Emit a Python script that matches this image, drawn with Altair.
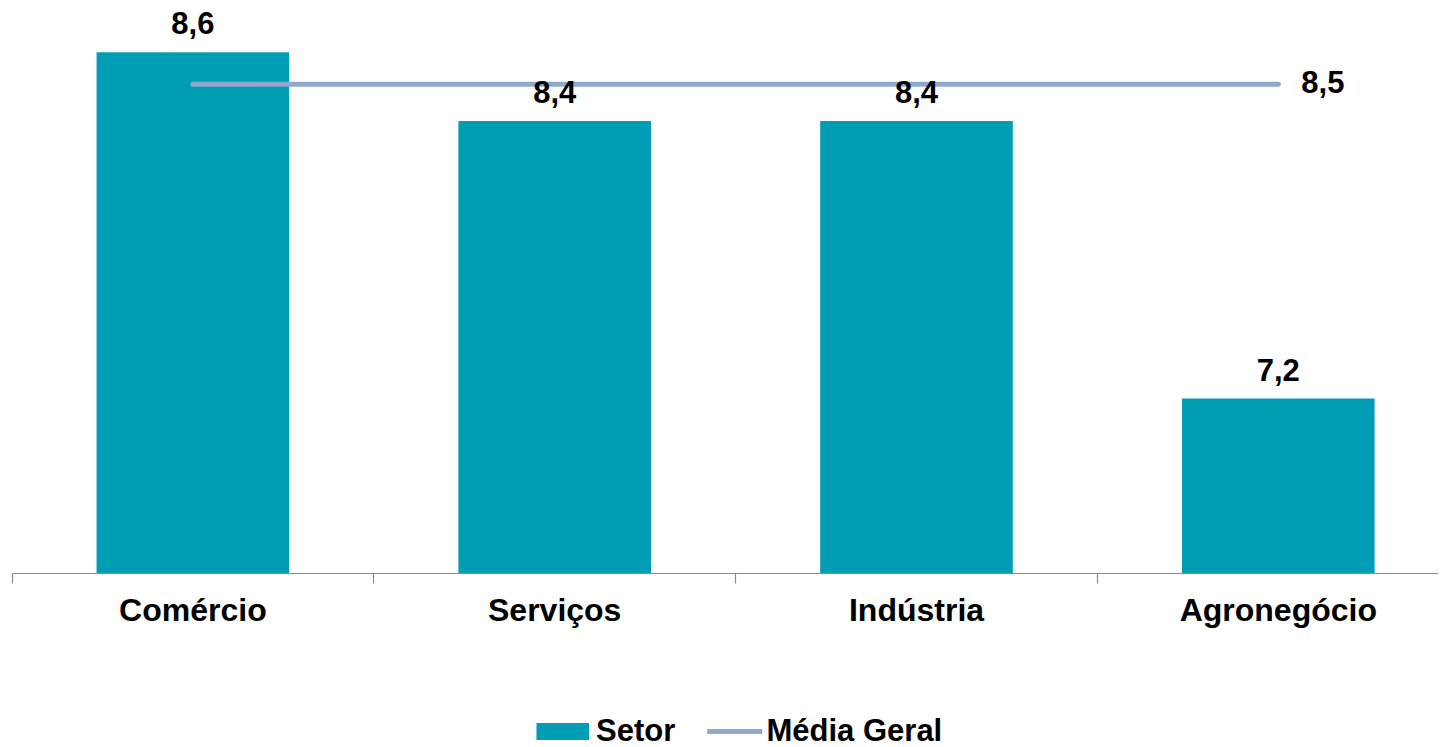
import altair as alt
import pandas as pd

categorias = ["Comércio", "Serviços", "Indústria", "Agronegócio"]
valores = [8.64, 8.36, 8.36, 7.23]
media_geral = 8.51
serie_barras = "Setor"
serie_linha = "Média Geral"
y_min, y_max = 6.52, 8.82

COR_BARRA = "#009EB5"
COR_LINHA = "#8FA8CC"
FONTE = "Liberation Sans"

barras_df = pd.DataFrame({"categoria": categorias, "valor": valores, "serie": serie_barras})
linha_df = pd.DataFrame({"categoria": [categorias[0], categorias[-1]],
                         "valor": [media_geral, media_geral], "serie": serie_linha})
rotulo_df = pd.DataFrame({"categoria": [categorias[-1]], "valor": [media_geral]})

W, H = 1426, 565
x_enc = alt.X(
    "categoria:N",
    sort=categorias,
    scale=alt.Scale(paddingInner=0.4677, paddingOuter=0.2045, align=0.5716),
    axis=alt.Axis(
        title=None, labelAngle=0, bandPosition=-0.439, tickSize=10, tickColor="#8c8c8c",
        domainColor="#8c8c8c", domainWidth=1.2, tickWidth=1.2,
        labelFont=FONTE, labelFontSize=32, labelFontWeight="bold", labelColor="black",
        labelPadding=12, labelLimit=0, grid=False,
    ),
)
y_scale = alt.Scale(domain=[y_min, y_max], nice=False, zero=False)
y_enc = alt.Y("valor:Q", scale=y_scale, axis=None)

leg_comum = dict(
    title=None, orient="none", direction="horizontal",
    labelFont=FONTE, labelFontSize=31, labelFontWeight="bold", labelColor="black",
    labelLimit=0, symbolSize=961, padding=0,
)

barras = alt.Chart(barras_df).mark_bar(opacity=1).encode(
    x=x_enc,
    y=y_enc,
    y2=alt.Y2(datum=y_min),
    color=alt.Color(
        "serie:N",
        scale=alt.Scale(domain=[serie_barras], range=[COR_BARRA]),
        legend=alt.Legend(symbolType="M-2.39,-0.55H1V0.55H-2.39Z", symbolStrokeWidth=0,
                          symbolOpacity=1, labelOffset=7, legendX=546, legendY=708,
                          **leg_comum),
    ),
)

rotulos = alt.Chart(barras_df).transform_calculate(
    txt="replace(format(datum.valor, '.1f'), '.', ',')"
).mark_text(
    font=FONTE, fontSize=31, fontWeight="bold", color="black", dy=-18, baseline="alphabetic"
).encode(x=x_enc, y=y_enc, text="txt:N")

linha = alt.Chart(linha_df).mark_line(
    strokeWidth=5, strokeCap="round"
).encode(
    x=x_enc, y=y_enc,
    stroke=alt.Stroke(
        "serie:N",
        scale=alt.Scale(domain=[serie_linha], range=[COR_LINHA]),
        legend=alt.Legend(symbolType="M-2.6,0H0.95", symbolStrokeWidth=5, labelOffset=1,
                          legendX=717.5, legendY=705.5, **leg_comum),
    ),
)

rotulo_media = alt.Chart(rotulo_df).transform_calculate(
    txt="replace(format(datum.valor, '.1f'), '.', ',')"
).mark_text(
    font=FONTE, fontSize=31, fontWeight="bold", color="black", align="left", dx=23, baseline="middle"
).encode(x=x_enc, y=y_enc, text="txt:N")

chart = alt.layer(barras, linha, rotulos, rotulo_media).properties(
    width=W, height=H,
    autosize=alt.AutoSizeParams(type="none"),
    padding={"left": 4, "top": 0, "right": 0, "bottom": 174},
    background="white",
).configure_view(stroke=None)

chart.save("out.html", embed_options={"renderer": "svg", "actions": False})
